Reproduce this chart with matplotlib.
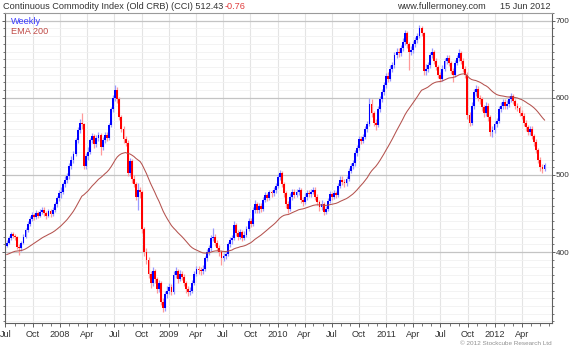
import matplotlib
matplotlib.use("Agg")
import matplotlib.pyplot as plt
import matplotlib.dates as mdates
from matplotlib.ticker import FixedLocator, MultipleLocator
import numpy as np
import pandas as pd

plt.rcParams['font.family'] = ['Liberation Sans', 'DejaVu Sans']

# weekly bars, Friday closes from 6 Jul 2007 to 15 Jun 2012
first_week = '2007-07-06'
first_open = 408
closes = [
    412, 418, 423, 421, 419, 407, 405, 412, 420, 428,
    437, 443, 448, 445, 450, 447, 452, 455, 450, 447,
    453, 449, 455, 462, 470, 476, 478, 488, 494, 498,
    512, 520, 527, 545, 558, 567, 566, 512, 525, 530,
    545, 550, 540, 548, 552, 536, 545, 552, 548, 565,
    585, 600, 610, 598, 575, 560, 546, 542, 503, 518,
    495, 488, 472, 480, 478, 430, 400, 390, 372, 360,
    375, 365, 352, 360, 335, 327, 345, 350, 355, 348,
    370, 375, 365, 372, 368, 360, 352, 348, 350, 360,
    372, 378, 377, 375, 378, 392, 400, 405, 418, 420,
    412, 405, 400, 392, 395, 398, 410, 415, 418, 435,
    425, 420, 426, 418, 422, 430, 440, 437, 455, 462,
    455, 460, 456, 468, 474, 470, 478, 476, 480, 486,
    497, 502, 488, 476, 462, 456, 472, 478, 474, 478,
    480, 468, 465, 472, 476, 475, 478, 481, 472, 465,
    458, 462, 452, 456, 466, 475, 472, 476, 474, 486,
    494, 491, 489, 495, 505, 512, 515, 528, 535, 546,
    544, 549, 560, 566, 592, 580, 568, 565, 585, 598,
    608, 616, 628, 625, 638, 642, 655, 660, 658, 665,
    672, 684, 670, 660, 662, 670, 675, 680, 690, 684,
    635, 638, 642, 655, 660, 648, 640, 630, 625, 638,
    648, 652, 645, 635, 630, 645, 652, 658, 648, 638,
    630, 578, 568, 590, 608, 612, 600, 598, 588, 580,
    590, 575, 556, 558, 566, 570, 585, 590, 595, 590,
    592, 598, 602, 596, 590, 587, 580, 577, 568, 562,
    556, 560, 550, 543, 532, 520, 510, 508, 512.43,
]
highs = [
    416, 421, 426, 426, 424, 421, 410, 414, 423, 431,
    440, 447, 452, 451, 454, 453, 456, 459, 458, 453,
    456, 456, 458, 465, 473, 480, 484, 491, 498, 502,
    515, 524, 531, 548, 562, 572, 580, 568, 528, 536,
    548, 555, 553, 552, 556, 555, 549, 556, 556, 568,
    588, 604, 616, 614, 601, 578, 563, 551, 545, 522,
    521, 500, 491, 490, 485, 481, 433, 405, 393, 376,
    380, 378, 368, 364, 363, 340, 349, 356, 360, 358,
    376, 381, 378, 377, 376, 371, 363, 356, 355, 364,
    376, 382, 382, 380, 383, 395, 404, 409, 422, 431,
    424, 415, 409, 403, 399, 402, 413, 419, 422, 440,
    438, 429, 430, 429, 427, 434, 444, 444, 459, 467,
    465, 464, 463, 471, 478, 477, 481, 481, 484, 490,
    501, 506, 505, 491, 479, 466, 476, 482, 482, 482,
    484, 483, 472, 476, 480, 480, 482, 485, 484, 475,
    468, 467, 465, 460, 470, 479, 478, 480, 479, 490,
    499, 498, 495, 499, 509, 516, 520, 532, 539, 550,
    550, 553, 564, 570, 600, 598, 583, 572, 589, 602,
    612, 620, 632, 633, 642, 647, 659, 664, 664, 669,
    677, 688, 687, 673, 667, 674, 679, 684, 694, 693,
    686, 644, 647, 659, 664, 662, 651, 643, 633, 642,
    652, 656, 655, 648, 639, 649, 656, 663, 661, 651,
    641, 633, 582, 594, 612, 616, 615, 604, 601, 591,
    594, 593, 578, 563, 570, 574, 589, 594, 599, 598,
    597, 602, 606, 605, 599, 593, 590, 584, 580, 571,
    565, 564, 563, 553, 546, 535, 523, 514, 516,
]
lows = [
    406, 410, 416, 418, 415, 404, 396, 402, 410, 418,
    426, 434, 440, 441, 443, 444, 445, 449, 447, 443,
    445, 445, 447, 452, 459, 466, 470, 475, 485, 490,
    495, 508, 516, 524, 541, 554, 560, 508, 508, 520,
    527, 541, 535, 536, 544, 526, 532, 541, 544, 545,
    562, 582, 596, 593, 571, 556, 541, 537, 498, 499,
    490, 484, 467, 455, 470, 425, 395, 384, 366, 354,
    356, 360, 347, 348, 331, 322, 324, 341, 346, 344,
    345, 366, 360, 362, 364, 356, 347, 343, 344, 347,
    357, 369, 372, 370, 372, 375, 389, 396, 402, 414,
    408, 401, 395, 383, 388, 391, 395, 406, 411, 415,
    421, 416, 417, 414, 415, 419, 427, 433, 434, 451,
    450, 451, 452, 453, 465, 466, 467, 472, 473, 477,
    483, 493, 484, 471, 457, 451, 453, 468, 470, 471,
    474, 464, 460, 462, 468, 471, 472, 475, 468, 461,
    453, 455, 448, 449, 453, 463, 468, 469, 470, 471,
    483, 487, 485, 486, 492, 502, 508, 512, 525, 532,
    540, 541, 546, 556, 563, 575, 563, 558, 562, 582,
    595, 604, 613, 620, 622, 634, 639, 651, 653, 654,
    661, 669, 665, 636, 655, 658, 666, 671, 677, 680,
    630, 630, 633, 639, 651, 644, 636, 626, 620, 622,
    635, 644, 641, 631, 620, 627, 642, 648, 644, 634,
    626, 573, 563, 565, 586, 603, 596, 592, 583, 575,
    576, 570, 550, 549, 554, 562, 567, 581, 586, 586,
    586, 588, 594, 592, 586, 583, 576, 572, 563, 557,
    552, 552, 546, 538, 528, 515, 505, 503, 505,
]
ema_start = 396
ema_span = 40

dates = pd.date_range(first_week, periods=len(closes), freq='W-FRI')
close = np.array(closes, dtype=float)
opens = np.concatenate([[first_open], close[:-1]])
up = close >= opens

ema = pd.Series([ema_start] + closes).ewm(span=ema_span, adjust=False).mean().values[1:]

fig = plt.figure(figsize=(5.70, 3.49), dpi=100)
ax = fig.add_axes([5 / 570, 1 - 323 / 349, 547 / 570, 310 / 349])

# grid
quarters = pd.date_range('2007-07-01', '2012-04-01', freq='QS-JAN')
months = pd.date_range('2007-07-01', '2012-07-01', freq='MS')
for q in quarters:
    ax.axvline(q, color='#e4e4e4', lw=0.8, zorder=0)
for v in range(310, 711, 10):
    ax.axhline(v, color='#f1f1f1', lw=0.6, zorder=0)
for v in (400, 500, 600, 700):
    ax.axhline(v, color='#c4c4c4', lw=0.9, zorder=0.5)

# wicks, then bodies
wick_cols = np.where(up, '#9a9aff', '#ff9a9a')
ax.vlines(dates, lows, highs, colors=wick_cols, lw=0.9, zorder=2)
body_cols = np.where(up, '#0000ff', '#ff0000')
ax.bar(dates, close - opens, bottom=opens, width=6.3, color=body_cols,
       linewidth=0, zorder=3)

ax.plot(dates, ema, color='#b4524e', lw=0.75, zorder=4)

ax.set_xlim(pd.Timestamp('2007-06-30'), pd.Timestamp('2012-07-10'))
ax.set_ylim(308, 710)

# axes styling
for s in ax.spines.values():
    s.set_color('#606060')
    s.set_linewidth(0.8)
ax.spines['top'].set_color('#9a9a9a')

ax.yaxis.tick_right()
ax.yaxis.set_major_locator(FixedLocator([400, 500, 600, 700]))
ax.yaxis.set_minor_locator(MultipleLocator(10))
ax.tick_params(axis='y', which='major', length=2, width=0.7, color='#606060',
               labelsize=5.9, labelcolor='#333333', pad=0.6, left=True)
ax.tick_params(axis='y', which='minor', length=1.6, width=0.6, color='#606060',
               left=True)

q_labels = [str(q.year) if q.month == 1 else q.strftime('%b') for q in quarters]
ax.xaxis.set_major_locator(FixedLocator(mdates.date2num(quarters)))
ax.xaxis.set_minor_locator(FixedLocator(mdates.date2num(months)))
ax.set_xticklabels(q_labels)
ax.tick_params(axis='x', which='major', length=3, width=0.7, color='#606060',
               labelsize=6.6, labelcolor='#333333', pad=2)
ax.tick_params(axis='x', which='minor', length=2, width=0.6, color='#606060')

# legend text inside the plot
ax.text(6 / 547, 1 - 8.5 / 310, 'Weekly', transform=ax.transAxes,
        color='#3c3cff', fontsize=6.6, va='center', ha='left')
ax.text(6 / 547, 1 - 18.5 / 310, 'EMA 200', transform=ax.transAxes,
        color='#c04a46', fontsize=6.6, va='center', ha='left')

# header and footer
fig.text(3 / 570, 1 - 6.5 / 349,
         'Continuous Commodity Index (Old CRB) (CCI) 512.43',
         color='#333333', fontsize=6.6, va='center', ha='left')
fig.text(225 / 570, 1 - 6.5 / 349, '-0.76', color='#e03c3c',
         fontsize=6.6, va='center', ha='left')
fig.text(397 / 570, 1 - 6.5 / 349, 'www.fullermoney.com', color='#333333',
         fontsize=6.6, va='center', ha='left')
fig.text(551 / 570, 1 - 6.5 / 349, '15 Jun 2012', color='#333333',
         fontsize=6.6, va='center', ha='right')
fig.text(552 / 570, 1 - 343.5 / 349, '\u00a9 2012 Stockcube Research Ltd',
         color='#909090', fontsize=4.6, va='center', ha='right')

fig.savefig('out.png', dpi=100)
